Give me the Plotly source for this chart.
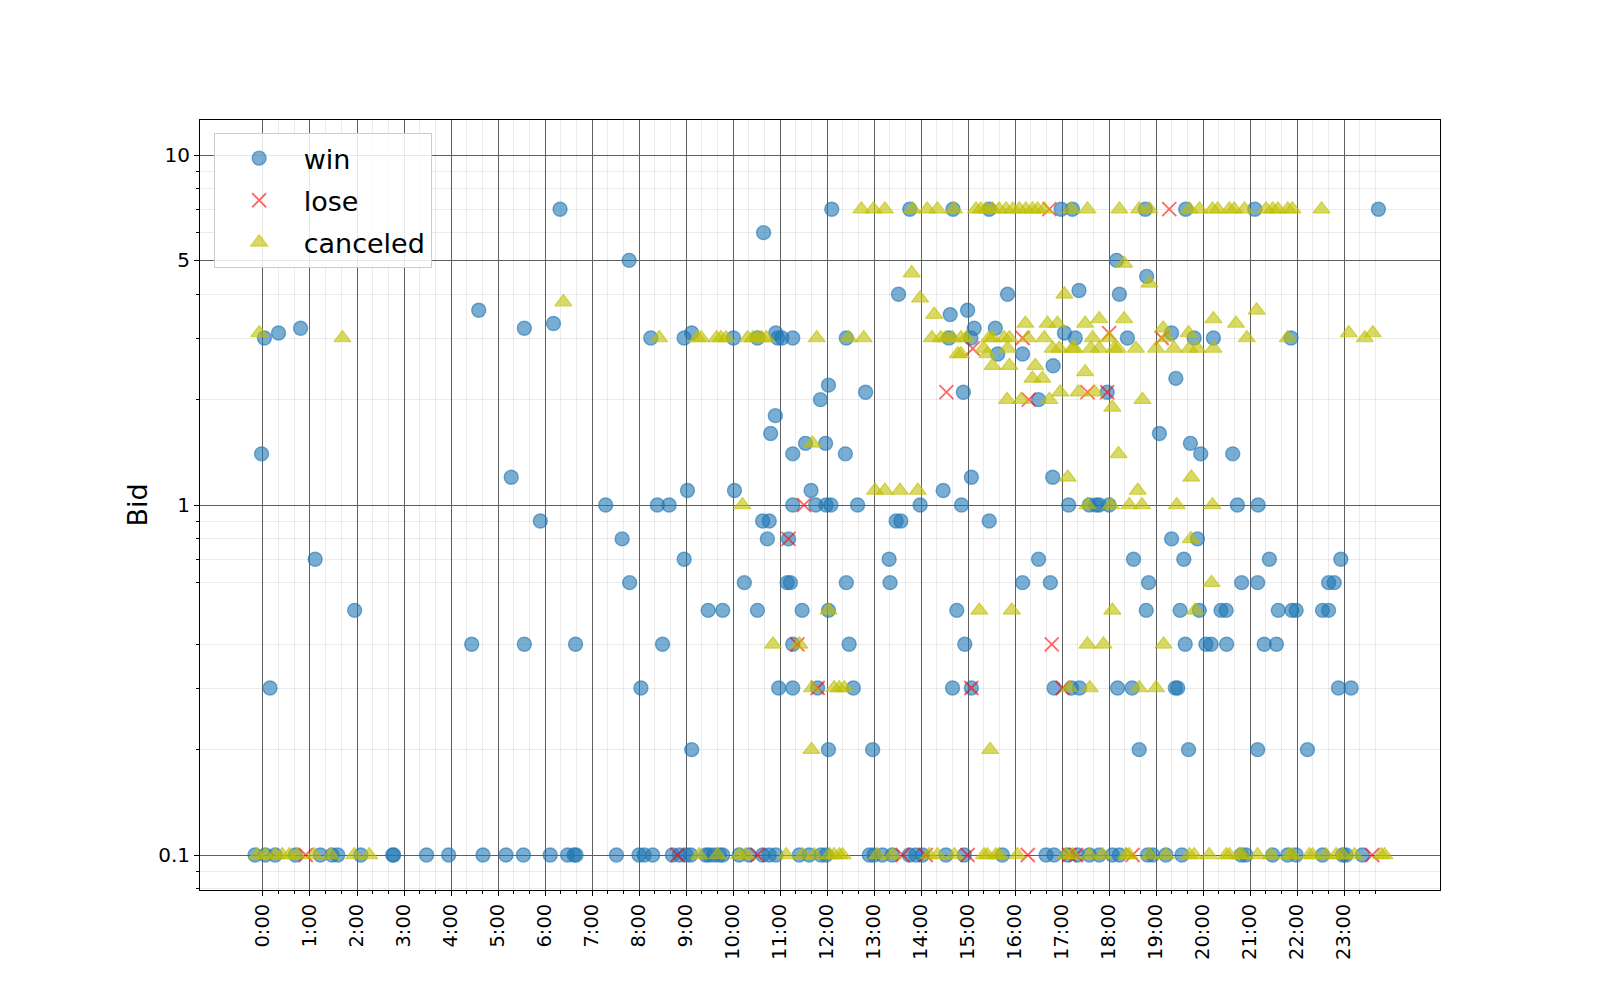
import plotly.graph_objects as go

# ---------------- data (hour of day, bid) ----------------
hour_labels = ["0:00", "1:00", "2:00", "3:00", "4:00", "5:00", "6:00", "7:00",
               "8:00", "9:00", "10:00", "11:00", "12:00", "13:00", "14:00", "15:00",
               "16:00", "17:00", "18:00", "19:00", "20:00", "21:00", "22:00", "23:00"]
hour_ticks = list(range(24))

# win: bids at 0.1
win_low_hour = [-0.17, 0.05, 0.26, 0.69, 1.22, 1.47, 1.59, 2.08, 2.76, 2.78, 3.48, 3.95,
                4.68, 5.17, 5.54, 6.11, 6.48, 6.62, 6.66, 7.52, 8.0, 8.11, 8.29, 8.71,
                8.86, 9.0, 9.1, 9.42, 9.49, 9.6, 9.71, 9.78, 10.13, 10.34, 10.63, 10.77,
                10.91, 11.41, 11.62, 11.87, 11.98, 12.9, 13.0, 13.18, 13.39, 13.75, 13.89,
                14.03, 14.53, 14.92, 15.73, 16.66, 16.83, 17.12, 17.33, 17.58, 17.79,
                18.07, 18.22, 18.82, 18.93, 19.21, 19.55, 20.81, 20.91, 21.48, 21.8,
                21.98, 22.54, 22.97, 23.04, 23.39]
# win: other bids
win_hour = [-0.03, 0.03, 0.15, 0.33, 0.8, 1.11, 1.95, 4.44, 4.59, 5.28, 5.56, 5.56, 5.9,
            6.18, 6.32, 6.65, 7.29, 7.64, 7.79, 7.8, 8.04,
            8.25, 8.39, 8.5, 8.64, 8.96, 8.96, 9.03, 9.12, 9.12, 9.47, 9.78, 10.01, 10.03,
            10.24, 10.52, 10.52, 10.63, 10.65, 10.73, 10.77, 10.8, 10.9, 10.91, 10.95,
            10.97, 11.04, 11.15, 11.18, 11.22, 11.27, 11.27, 11.27, 11.27, 11.27, 11.47,
            11.54, 11.66, 11.76, 11.8, 11.86, 11.97, 11.98, 12.03, 12.03, 12.03, 12.08,
            12.1, 12.39, 12.41, 12.41, 12.47, 12.56, 12.65, 12.82, 12.97, 13.32, 13.34,
            13.47, 13.52, 13.57, 13.76, 13.98, 14.47, 14.59, 14.62, 14.67, 14.68, 14.76,
            14.86, 14.9, 14.93, 14.99, 15.06, 15.07, 15.07, 15.13, 15.45, 15.45, 15.58,
            15.63, 15.84, 16.16, 16.16, 16.5, 16.5, 16.75, 16.8, 16.81, 16.83, 16.98,
            17.05, 17.14, 17.2, 17.22, 17.28, 17.36, 17.37, 17.58, 17.72, 17.79, 17.96,
            18.0, 18.16, 18.18, 18.22, 18.39, 18.49, 18.52, 18.64, 18.77, 18.79, 18.8,
            18.84, 19.07, 19.33, 19.33, 19.41, 19.42, 19.46, 19.51, 19.59, 19.62, 19.63,
            19.69, 19.73, 19.81, 19.88, 19.92, 19.95, 20.06, 20.17, 20.22, 20.38, 20.49,
            20.5, 20.63, 20.73, 20.82, 21.1, 21.16, 21.16, 21.17, 21.3, 21.41, 21.56,
            21.6, 21.87, 21.89, 21.98, 22.22, 22.54, 22.67, 22.67, 22.79, 22.88, 22.93,
            23.15, 23.73]
win_bid = [1.4, 3.0, 0.3, 3.1, 3.2, 0.7, 0.5, 0.4, 3.6, 1.2, 3.2, 0.4, 0.9,
           3.3, 7.0, 0.4, 1.0, 0.8, 5.0, 0.6, 0.3,
           3.0, 1.0, 0.4, 1.0, 3.0, 0.7, 1.1, 3.1, 0.2, 0.5, 0.5, 3.0, 1.1,
           0.6, 3.0, 0.5, 0.9, 6.0, 0.8, 0.9, 1.6, 1.8, 3.1, 3.0,
           0.3, 3.0, 0.6, 0.8, 0.6, 3.0, 1.4, 1.0, 0.4, 0.3, 0.5,
           1.5, 1.1, 1.0, 0.3, 2.0, 1.5, 1.0, 2.2, 0.5, 0.2, 1.0,
           7.0, 1.4, 3.0, 0.6, 0.4, 0.3, 1.0, 2.1, 0.2, 0.7, 0.6,
           0.9, 4.0, 0.9, 7.0, 1.0, 1.1, 3.0, 3.5, 0.3, 7.0, 0.5,
           1.0, 2.1, 0.4, 3.6, 3.0, 1.2, 0.3, 3.2, 7.0, 0.9, 3.2,
           2.7, 4.0, 2.7, 0.6, 2.0, 0.7, 0.6, 1.2, 2.5, 0.3, 7.0,
           3.1, 1.0, 0.3, 7.0, 3.0, 4.1, 0.3, 1.0, 1.0, 1.0, 2.1,
           1.0, 5.0, 0.3, 4.0, 3.0, 0.3, 0.7, 0.2, 7.0, 0.5, 4.5,
           0.6, 1.6, 3.1, 0.8, 0.3, 2.3, 0.3, 0.5, 0.7, 0.4, 7.0,
           0.2, 1.5, 3.0, 0.8, 0.5, 1.4, 0.4, 0.4, 3.0, 0.5, 0.5,
           0.4, 1.4, 1.0, 0.6, 7.0, 0.6, 0.2, 1.0, 0.4, 0.7, 0.4,
           0.5, 3.0, 0.5, 0.5, 0.2, 0.5, 0.5, 0.6, 0.6, 0.3, 0.7,
           0.3, 7.0]

# lose
lose_hour = [0.91, 8.82, 10.52, 11.18, 11.37, 11.51, 11.8, 13.61, 14.1, 14.54, 14.99,
             15.07, 15.1, 16.16, 16.27, 16.29, 16.73, 16.78, 17.01, 17.15, 17.3, 17.54,
             17.96, 18.0, 18.5, 19.12, 19.28, 23.6]
lose_bid = [0.1, 0.1, 0.1, 0.8, 0.4, 1.0, 0.3, 0.1, 0.1, 2.1, 0.1,
            0.3, 2.8, 3.0, 0.1, 2.0, 7.0, 0.4, 0.3, 0.1, 0.1, 2.1,
            2.1, 3.1, 0.1, 3.0, 7.0, 0.1]

# canceled: bids at 0.1
cancel_low_hour = [-0.12, 0.05, 0.26, 0.41, 0.56, 0.73, 1.09, 1.44, 1.94, 2.26, 9.28,
                   9.67, 10.13, 10.27, 11.13, 11.48, 11.73, 12.05, 12.15, 12.26, 12.33,
                   13.07, 13.39, 14.17, 14.35, 14.71, 15.34, 15.41, 15.59, 15.66, 16.05,
                   17.08, 17.22, 17.58, 17.86, 18.36, 18.43, 18.86, 19.21, 19.71, 19.81,
                   20.13, 20.49, 20.56, 20.77, 20.84, 21.16, 21.44, 21.83, 21.9, 22.26,
                   22.33, 22.61, 22.83, 22.97, 23.22, 23.79, 23.86]
# canceled: bids at 7
cancel_top_hour = [12.73, 12.99, 13.23, 13.82, 14.13, 14.35, 14.7, 15.17, 15.27, 15.38,
                   15.52, 15.66, 15.81, 15.95, 16.09, 16.23, 16.37, 16.48, 16.62, 17.19,
                   17.54, 18.22, 18.64, 18.86, 19.71, 19.92, 20.2, 20.31, 20.56, 20.66,
                   20.88, 21.34, 21.48, 21.59, 21.8, 21.9, 22.52]
# canceled: bids at 3
cancel_three_hour = [1.69, 8.43, 9.24, 9.32, 9.65, 9.74, 9.85, 10.31, 10.42, 10.52, 10.61,
                     10.71, 11.78, 12.46, 12.78, 14.23, 14.42, 14.53, 14.67, 14.85, 14.96,
                     15.45, 15.52, 15.77, 15.88, 16.27, 16.62, 17.65, 18.0, 19.21, 20.93,
                     21.8, 23.44]
# canceled: other bids
cancel_hour = [-0.08, 6.39, 13.8, 13.98, 14.28, 17.05, 16.22, 16.69, 16.9,
               19.69, 23.1, 23.61, 19.15, 17.49, 17.79, 18.32, 20.22, 20.7,
               18.32, 18.86, 21.14,
               15.33, 15.84, 16.8, 16.94, 17.22, 17.26, 17.61, 17.79, 18.11, 18.18, 18.57,
               19.0, 19.38, 19.71, 19.88, 20.22,
               14.78, 14.85, 15.41, 15.52, 15.88, 16.43, 17.49, 16.37, 16.58,
               16.96, 17.35, 17.69, 15.83, 16.13, 16.73, 18.71, 18.07,
               11.69, 18.2, 17.12, 19.75, 13.02, 13.23, 13.55, 13.93, 18.61,
               10.2, 17.54, 18.04, 18.43, 18.7, 19.44, 20.2, 19.74, 20.18,
               12.03, 15.24, 15.93, 18.07, 19.83, 10.85, 11.41, 17.54, 17.88, 19.16,
               11.68, 12.15, 12.26, 12.37, 17.15, 17.59, 18.64, 19.0, 11.67, 15.47]
cancel_bid = [3.1, 3.8, 4.6, 3.9, 3.5, 4.0, 3.3, 3.3, 3.3,
              3.1, 3.1, 3.1, 3.2, 3.3, 3.4, 3.4, 3.4, 3.3,
              4.9, 4.3, 3.6,
              2.8, 2.8, 2.8, 2.8, 2.8, 2.8, 2.8, 2.8, 2.8, 2.8, 2.8,
              2.8, 2.8, 2.8, 2.8, 2.8,
              2.7, 2.7, 2.7, 2.5, 2.5, 2.5, 2.4, 2.3, 2.3,
              2.1, 2.1, 2.1, 2.0, 2.0, 2.0, 2.0, 1.9,
              1.5, 1.4, 1.2, 1.2, 1.1, 1.1, 1.1, 1.1, 1.1,
              1.0, 1.0, 1.0, 1.0, 1.0, 1.0, 1.0, 0.8, 0.6,
              0.5, 0.5, 0.5, 0.5, 0.5, 0.4, 0.4, 0.4, 0.4, 0.4,
              0.3, 0.3, 0.3, 0.3, 0.3, 0.3, 0.3, 0.3, 0.2, 0.2]

major_y = [0.1, 1, 5, 10]
major_y_text = ["0.1", "1", "5", "10"]
minor_y = [0.08, 0.09, 0.2, 0.3, 0.4, 0.6, 0.7, 0.8, 0.9, 2, 3, 4, 6, 7, 8, 9]

# ---------------- assemble series ----------------
win_x = win_low_hour + win_hour
win_y = [0.1] * len(win_low_hour) + win_bid
cancel_x = cancel_low_hour + cancel_top_hour + cancel_three_hour + cancel_hour
cancel_y = ([0.1] * len(cancel_low_hour) + [7.0] * len(cancel_top_hour)
            + [3.0] * len(cancel_three_hour) + cancel_bid)

minor_x = [h + k / 3 for h in hour_ticks for k in (1, 2)]

BLUE = "rgba(31,119,180,0.6)"
RED = "rgba(255,0,0,0.6)"
YEL = "rgba(191,191,0,0.6)"

fig = go.Figure()
fig.add_trace(go.Scatter(x=win_x, y=win_y, mode="markers", name="win", legendgroup="a",
                         marker=dict(symbol="circle", size=14, color=BLUE,
                                     line=dict(width=1.4, color=BLUE))))
fig.add_trace(go.Scatter(x=lose_hour, y=lose_bid, mode="markers", name="lose", legendgroup="b",
                         marker=dict(symbol="x-thin", size=14, color=RED,
                                     line=dict(width=1.8, color=RED))))
fig.add_trace(go.Scatter(x=cancel_x, y=cancel_y, mode="markers", name="canceled", legendgroup="c",
                         marker=dict(symbol="triangle-up", size=15, color=YEL,
                                     line=dict(width=1.2, color=YEL))))

axis_common = dict(
    showline=True, linecolor="black", linewidth=1, mirror=True,
    ticks="outside", ticklen=5, tickwidth=1, tickcolor="black",
    showgrid=True, gridcolor="#5f5f5f", gridwidth=1, zeroline=False,
)

fig.update_layout(
    width=1600, height=1000,
    margin=dict(l=192, r=168, t=112, b=118),
    paper_bgcolor="white", plot_bgcolor="white",
    font=dict(family="DejaVu Sans", color="black"),
    showlegend=True,
    legend=dict(x=0.011, y=0.983, xanchor="left", yanchor="top",
                bgcolor="rgba(255,255,255,0.85)", bordercolor="#cccccc", borderwidth=1,
                font=dict(size=27, family="DejaVu Sans"), itemwidth=79,
                traceorder="grouped", tracegroupgap=4),
    xaxis=dict(
        range=[-1.34, 25.04], tickmode="array", tickvals=hour_ticks, ticktext=hour_labels,
        tickangle=-90, tickfont=dict(size=19.5),
        minor=dict(tickmode="array", tickvals=minor_x, ticks="outside", ticklen=3,
                   tickcolor="black", tickwidth=1, showgrid=True,
                   gridcolor="rgba(0,0,0,0.08)", gridwidth=1),
        **axis_common,
    ),
    yaxis=dict(
        type="log", range=[-1.1, 1.1], tickmode="array", tickvals=major_y,
        ticktext=major_y_text, tickfont=dict(size=20),
        title=dict(text="Bid", font=dict(size=27), standoff=2),
        minor=dict(tickmode="array", tickvals=minor_y, ticks="outside", ticklen=3,
                   tickcolor="black", tickwidth=1, showgrid=True,
                   gridcolor="rgba(0,0,0,0.08)", gridwidth=1),
        **axis_common,
    ),
)

fig.write_html("out.html")
